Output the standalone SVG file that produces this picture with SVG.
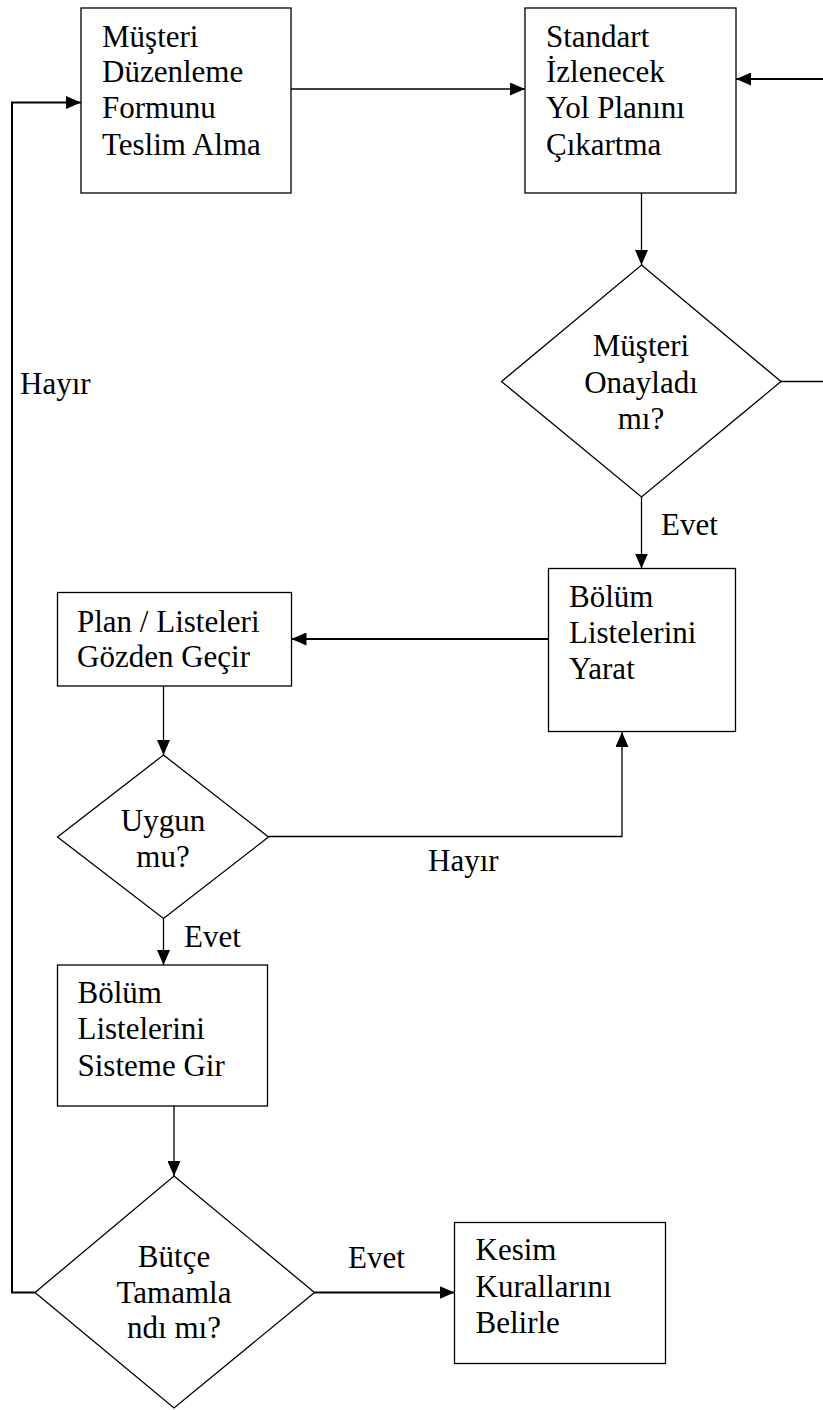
<svg xmlns="http://www.w3.org/2000/svg" width="823" height="1410" viewBox="0 0 823 1410">
  <style>
    .box { fill: #fff; stroke: #000; stroke-width: 1.3; }
    .dec { fill: #fff; stroke: #000; stroke-width: 1.3; }
    .t { font-family: "Liberation Serif", "Times New Roman", serif; font-size: 31px; fill: #000; }
    .c { text-anchor: middle; }
    .edge { fill: none; stroke: #000; stroke-width: 1.3; }
    .edge.bold { stroke-width: 2; }
  </style>
  <defs>
    <marker id="arrow" markerUnits="userSpaceOnUse" markerWidth="15" markerHeight="13" refX="15" refY="6.5" orient="auto">
      <path d="M0,0 L15,6.5 L0,13 Z" fill="#000"/>
    </marker>
  </defs>
  <rect width="823" height="1410" fill="#fff"/>

  <g id="connectors">
    <line class="edge" x1="291" y1="89" x2="525" y2="89" marker-end="url(#arrow)"/>
    <line class="edge bold" x1="823" y1="79" x2="736" y2="79" marker-end="url(#arrow)"/>
    <line class="edge" x1="641.5" y1="193" x2="641.5" y2="265" marker-end="url(#arrow)"/>
    <line class="edge" x1="781" y1="381.5" x2="823" y2="381.5"/>
    <line class="edge" x1="641.5" y1="497" x2="641.5" y2="568.5" marker-end="url(#arrow)"/>
    <line class="edge bold" x1="548.5" y1="639" x2="291.5" y2="639" marker-end="url(#arrow)"/>
    <line class="edge" x1="163.5" y1="686" x2="163.5" y2="755" marker-end="url(#arrow)"/>
    <polyline class="edge" points="268.5,836.5 622,836.5 622,732" marker-end="url(#arrow)"/>
    <line class="edge" x1="163.5" y1="918.5" x2="163.5" y2="965" marker-end="url(#arrow)"/>
    <line class="edge" x1="174" y1="1106" x2="174" y2="1176" marker-end="url(#arrow)"/>
    <line class="edge bold" x1="314.5" y1="1292.5" x2="454.5" y2="1292.5" marker-end="url(#arrow)"/>
    <polyline class="edge bold" points="35,1292.5 12,1292.5 12,102.5 81,102.5" marker-end="url(#arrow)"/>

    <text class="t" x="661" y="535">Evet</text>
    <text class="t" x="428" y="871">Hayır</text>
    <text class="t" x="184" y="947">Evet</text>
    <text class="t" x="348" y="1268">Evet</text>
    <text class="t" x="20" y="394">Hayır</text>
  </g>

  <g id="teslim-alma">
    <rect class="box" x="81" y="8" width="210" height="185"/>
    <text class="t" x="102" y="47">Müşteri</text>
    <text class="t" x="102" y="82">Düzenleme</text>
    <text class="t" x="102" y="118">Formunu</text>
    <text class="t" x="102" y="155">Teslim Alma</text>
  </g>

  <g id="yol-plani">
    <rect class="box" x="525" y="8" width="211" height="185"/>
    <text class="t" x="546" y="47">Standart</text>
    <text class="t" x="546" y="82">İzlenecek</text>
    <text class="t" x="546" y="118">Yol Planını</text>
    <text class="t" x="546" y="155">Çıkartma</text>
  </g>

  <g id="musteri-onay">
    <polygon class="dec" points="641.5,265 781,381.5 641.5,497 501.5,381.5"/>
    <text class="t c" x="641" y="356">Müşteri</text>
    <text class="t c" x="641" y="393">Onayladı</text>
    <text class="t c" x="641" y="429">mı?</text>
  </g>

  <g id="liste-yarat">
    <rect class="box" x="548.5" y="568.5" width="187" height="163"/>
    <text class="t" x="569" y="607">Bölüm</text>
    <text class="t" x="569" y="643">Listelerini</text>
    <text class="t" x="569" y="679">Yarat</text>
  </g>

  <g id="gozden-gecir">
    <rect class="box" x="57.5" y="592.5" width="234" height="93.5"/>
    <text class="t" x="77" y="632">Plan / Listeleri</text>
    <text class="t" x="77" y="667">Gözden Geçir</text>
  </g>

  <g id="uygun-mu">
    <polygon class="dec" points="163.5,755 268.5,837 163.5,918.5 57.5,837"/>
    <text class="t c" x="163" y="831">Uygun</text>
    <text class="t c" x="163" y="867">mu?</text>
  </g>

  <g id="sisteme-gir">
    <rect class="box" x="57.5" y="965" width="210" height="141"/>
    <text class="t" x="77.5" y="1003">Bölüm</text>
    <text class="t" x="77.5" y="1039">Listelerini</text>
    <text class="t" x="77.5" y="1076">Sisteme Gir</text>
  </g>

  <g id="butce">
    <polygon class="dec" points="174,1176 314.5,1292.5 174,1408 35,1292.5"/>
    <text class="t c" x="174" y="1267">Bütçe</text>
    <text class="t c" x="174" y="1303">Tamamla</text>
    <text class="t c" x="174" y="1338">ndı mı?</text>
  </g>

  <g id="kesim-kurallari">
    <rect class="box" x="454.5" y="1222.5" width="211" height="141"/>
    <text class="t" x="475.5" y="1260">Kesim</text>
    <text class="t" x="475.5" y="1297">Kurallarını</text>
    <text class="t" x="475.5" y="1333">Belirle</text>
  </g>
</svg>
